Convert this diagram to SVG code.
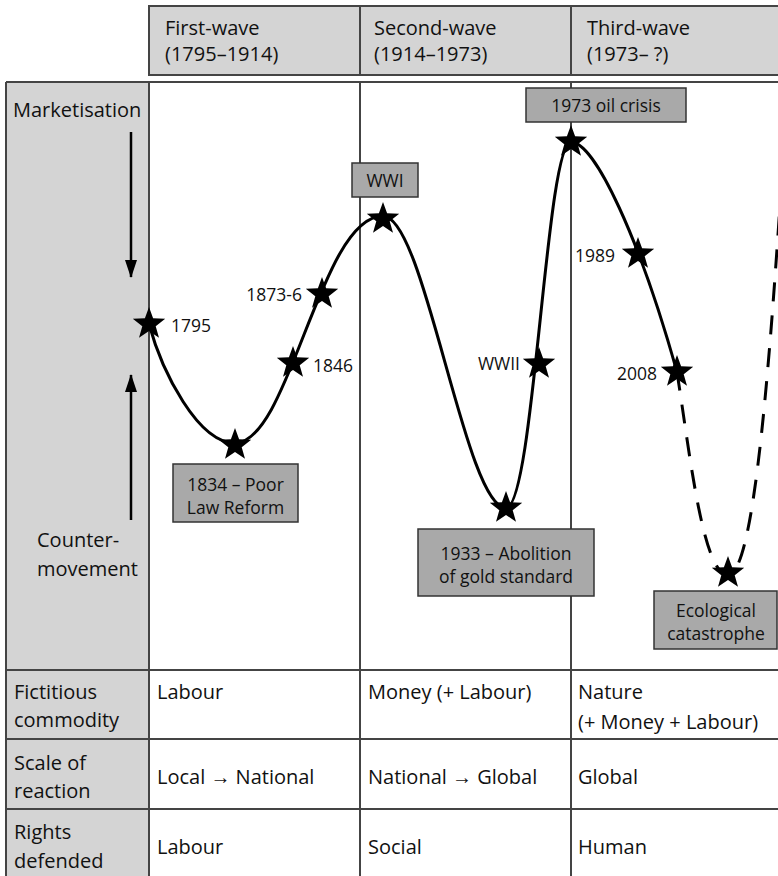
<svg xmlns="http://www.w3.org/2000/svg" width="778" height="876" viewBox="0 0 778 876">
<style>
text{font-family:"Open Sans","Noto Sans","Liberation Sans",sans-serif;fill:#111}
.t20{font-size:20px}
.t18{font-size:17.5px}
.grid{stroke:#444;stroke-width:2;fill:none}
.lbl{fill:#a9a9a9;stroke:#333;stroke-width:1.5}
.curve{fill:none;stroke:#000;stroke-width:3}
.dash{fill:none;stroke:#000;stroke-width:3;stroke-dasharray:19 14}
.mid{text-anchor:middle}
.end{text-anchor:end}
</style>
<defs>
<path id="star" d="M0,-17 L4.1,-5.7 L16.2,-5.3 L6.7,2.2 L10,13.8 L0,7 L-10,13.8 L-6.7,2.2 L-16.2,-5.3 L-4.1,-5.7 Z" fill="#000"/>
<marker id="ah" viewBox="0 0 18 12" refX="17" refY="6" markerWidth="18" markerHeight="12" orient="auto" markerUnits="userSpaceOnUse">
<path d="M0,0 L18,6 L0,12 Z" fill="#000"/>
</marker>
</defs>

<g id="header">
<rect x="149" y="6" width="660" height="69" fill="#d4d4d4" stroke="#444" stroke-width="2"/>
<line x1="360" y1="6" x2="360" y2="75" class="grid"/>
<line x1="571" y1="6" x2="571" y2="75" class="grid"/>
<text class="t20" x="165" y="35">First-wave</text>
<text class="t20" x="165" y="61">(1795–1914)</text>
<text class="t20" x="374" y="35">Second-wave</text>
<text class="t20" x="374" y="61">(1914–1973)</text>
<text class="t20" x="587" y="35">Third-wave</text>
<text class="t20" x="587" y="61">(1973– ?)</text>
</g>

<g id="table">
<rect x="6" y="82" width="143" height="800" fill="#d4d4d4"/>
<line x1="6" y1="82" x2="790" y2="82" class="grid"/>
<line x1="6" y1="82" x2="6" y2="880" class="grid"/>
<line x1="149" y1="82" x2="149" y2="880" class="grid"/>
<line x1="360" y1="82" x2="360" y2="880" class="grid"/>
<line x1="571" y1="82" x2="571" y2="880" class="grid"/>
<line x1="6" y1="670" x2="790" y2="670" class="grid"/>
<line x1="6" y1="739" x2="790" y2="739" class="grid"/>
<line x1="6" y1="809" x2="790" y2="809" class="grid"/>
</g>

<g id="axis">
<text class="t20" x="13" y="117">Marketisation</text>
<text class="t20" x="37" y="547">Counter-</text>
<text class="t20" x="37" y="576">movement</text>
</g>

<g id="connectors">
<line x1="131" y1="132" x2="131" y2="277" stroke="#000" stroke-width="2.5" marker-end="url(#ah)"/>
<line x1="131" y1="520" x2="131" y2="375" stroke="#000" stroke-width="2.5" marker-end="url(#ah)"/>
<path class="curve" d="M149,324 C162,372 198,443 235,443 C290,443 320,216 383,216 C425,216 465,508 506,508 C534,508 546,142 571,142 C595,142 640,240 677,372"/>
<path class="dash" d="M677,372 C690,455 703,575 728,575 C752,575 767,400 780,205"/>
</g>

<g id="labels">
<rect class="lbl" x="352" y="163" width="66" height="34"/>
<text class="t18 mid" x="385" y="187">WWI</text>
<rect class="lbl" x="526" y="88" width="160" height="34"/>
<text class="t18 mid" x="606" y="112">1973 oil crisis</text>
<rect class="lbl" x="173" y="464" width="125" height="58"/>
<text class="t18 mid" x="235.5" y="491">1834 – Poor</text>
<text class="t18 mid" x="235.5" y="514">Law Reform</text>
<rect class="lbl" x="418" y="529" width="176" height="67"/>
<text class="t18 mid" x="506" y="560">1933 – Abolition</text>
<text class="t18 mid" x="506" y="583">of gold standard</text>
<rect class="lbl" x="654" y="591" width="123" height="58"/>
<text class="t18 mid" x="716" y="617">Ecological</text>
<text class="t18 mid" x="716" y="640">catastrophe</text>
</g>

<g id="events">
<use href="#star" x="149" y="324"/>
<text class="t18" x="171" y="332">1795</text>
<use href="#star" x="235" y="445"/>
<use href="#star" x="293" y="363"/>
<text class="t18" x="313" y="372">1846</text>
<use href="#star" x="322" y="294"/>
<text class="t18 end" x="302" y="301">1873-6</text>
<use href="#star" x="383" y="219"/>
<use href="#star" x="506" y="508"/>
<use href="#star" x="539" y="364"/>
<text class="t18 end" x="520" y="370">WWII</text>
<use href="#star" x="571" y="142"/>
<use href="#star" x="638" y="254"/>
<text class="t18 end" x="615" y="262">1989</text>
<use href="#star" x="677" y="372"/>
<text class="t18 end" x="657" y="380">2008</text>
<use href="#star" x="728" y="573"/>
</g>

<g id="rows">
<text class="t20" x="14" y="699">Fictitious</text>
<text class="t20" x="14" y="727">commodity</text>
<text class="t20" x="157" y="699">Labour</text>
<text class="t20" x="368" y="699">Money (+ Labour)</text>
<text class="t20" x="578" y="699">Nature</text>
<text class="t20" x="578" y="729">(+ Money + Labour)</text>
<text class="t20" x="14" y="770">Scale of</text>
<text class="t20" x="14" y="798">reaction</text>
<text class="t20" x="157" y="784">Local → National</text>
<text class="t20" x="368" y="784">National → Global</text>
<text class="t20" x="578" y="784">Global</text>
<text class="t20" x="14" y="839">Rights</text>
<text class="t20" x="14" y="868">defended</text>
<text class="t20" x="157" y="854">Labour</text>
<text class="t20" x="368" y="854">Social</text>
<text class="t20" x="578" y="854">Human</text>
</g>
</svg>
